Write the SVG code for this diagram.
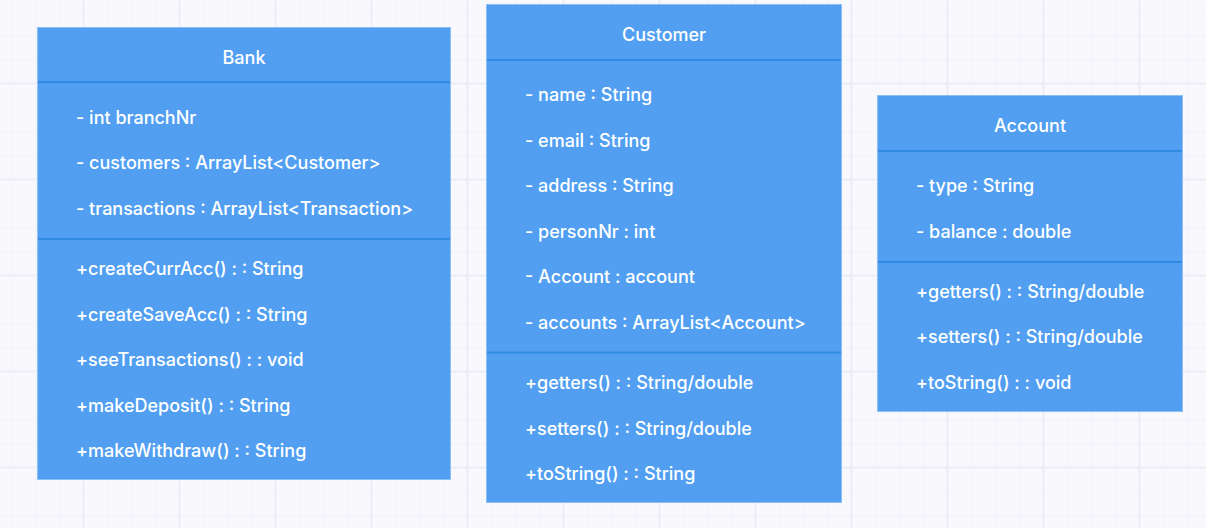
<svg xmlns="http://www.w3.org/2000/svg" width="1206" height="528" viewBox="0 0 1206 528">
<defs>
<pattern id="g" x="11.5" y="11.5" width="96" height="96" patternUnits="userSpaceOnUse">
<path d="M0 0V96M24 0V96M48 0V96M0 0H96M0 24H96M0 48H96" stroke="#efeff9" stroke-width="1" fill="none"/>
<path d="M72 0V96M0 72H96" stroke="#ececf8" stroke-width="2" fill="none"/>
</pattern>
</defs>
<style>
.box{fill:#529ff2;stroke:#8cc0f5;stroke-width:1}
.div{stroke:#2f8ae2;stroke-width:2}
text{font-family:Inter,"Liberation Sans",sans-serif;font-size:18px;font-weight:500;fill:#ffffff;dominant-baseline:central}
.t{text-anchor:middle}
</style>
<rect width="1206" height="528" fill="#f8f8fd"/>
<rect width="1206" height="528" fill="url(#g)"/>
<g id="connectors"></g>
<g id="bank">
<rect class="box" x="37.5" y="27.5" width="413" height="452"/>
<line class="div" x1="38" y1="82" x2="450" y2="82"/>
<line class="div" x1="38" y1="239" x2="450" y2="239"/>
<text class="t" x="244" y="57.5">Bank</text>
<text x="76" y="117.5">- int branchNr</text>
<text x="76" y="162.5">- customers : ArrayList&lt;Customer&gt;</text>
<text x="76" y="208.5">- transactions : ArrayList&lt;Transaction&gt;</text>
<text x="76" y="268.5">+createCurrAcc() : : String</text>
<text x="76" y="314.5">+createSaveAcc() : : String</text>
<text x="76" y="359.5">+seeTransactions() : : void</text>
<text x="76" y="405.5">+makeDeposit() : : String</text>
<text x="76" y="450.5">+makeWithdraw() : : String</text>
</g>
<g id="customer">
<rect class="box" x="486.5" y="4.5" width="355" height="498"/>
<line class="div" x1="487" y1="60" x2="841" y2="60"/>
<line class="div" x1="487" y1="352.5" x2="841" y2="352.5"/>
<text class="t" x="664" y="34.5">Customer</text>
<text x="525" y="94.5">- name : String</text>
<text x="525" y="140.5">- email : String</text>
<text x="525" y="185.5">- address : String</text>
<text x="525" y="231.5">- personNr : int</text>
<text x="525" y="276.5">- Account : account</text>
<text x="525" y="322.5">- accounts : ArrayList&lt;Account&gt;</text>
<text x="525" y="382.5">+getters() : : String/double</text>
<text x="525" y="428.5">+setters() : : String/double</text>
<text x="525" y="473.5">+toString() : : String</text>
</g>
<g id="account">
<rect class="box" x="877.5" y="95.5" width="305" height="316"/>
<line class="div" x1="878" y1="151" x2="1182" y2="151"/>
<line class="div" x1="878" y1="262" x2="1182" y2="262"/>
<text class="t" x="1030" y="125.5">Account</text>
<text x="916" y="185.5">- type : String</text>
<text x="916" y="231.5">- balance : double</text>
<text x="916" y="291.5">+getters() : : String/double</text>
<text x="916" y="336.5">+setters() : : String/double</text>
<text x="916" y="382.5">+toString() : : void</text>
</g>
</svg>
